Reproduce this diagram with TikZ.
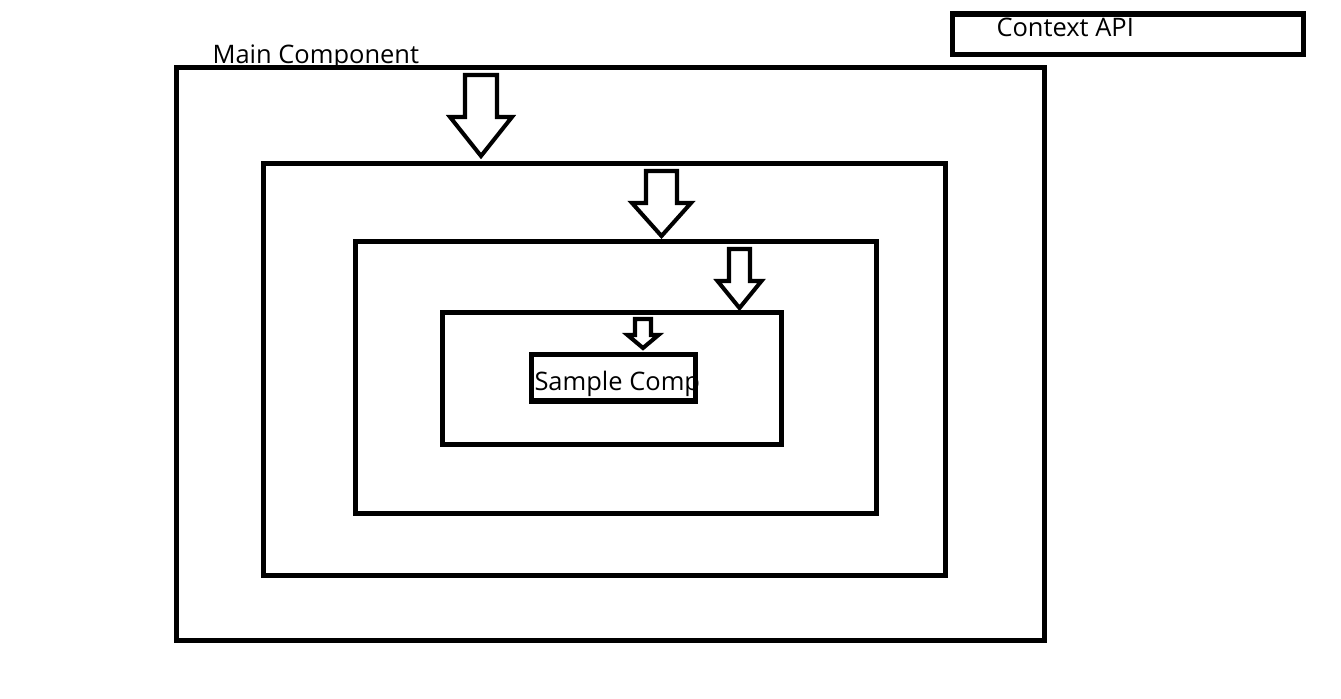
\documentclass[tikz,border=0pt]{standalone}
\usepackage{fontspec}
\setmainfont{Open Sans}
\usepackage{tikz}

\begin{document}
\begin{tikzpicture}[x=0.02cm,y=-0.02cm,line width=2.85pt]
  \useasboundingbox (0,0) rectangle (1341,699);
  \node[draw,minimum width=7.03cm,minimum height=0.81cm] (ctx) at (1128.25,34.25) {};
  \node[draw,minimum width=17.36cm,minimum height=11.46cm] (main) at (610.5,354) {};
  \node[draw,minimum width=13.64cm,minimum height=8.24cm] (child) at (604.5,369.5) {};
  \node[draw,minimum width=10.42cm,minimum height=5.44cm] (grand) at (616,377.5) {};
  \node[draw,minimum width=6.78cm,minimum height=2.64cm] (inner) at (612,378.5) {};
  \node[draw,minimum width=3.28cm,minimum height=0.93cm] (sample) at (613.5,377.75) {};
  \node[anchor=base west,inner sep=0pt,font=\fontsize{14.5}{17}\selectfont] (ctxLabel) at (994,37) {Context API};
  \node[anchor=base west,inner sep=0pt,font=\fontsize{14.5}{17}\selectfont] (mainLabel) at (210,64) {Main Component};
  \node[anchor=base west,inner sep=0pt,font=\fontsize{14.5}{17}\selectfont] (sampleLabel) at (532,390) {Sample Comp};
  \foreach \cx/\sw/\ya/\yb/\hw/\yc in {481/16/75/117/31/156, 661.5/15.5/171/203/29.5/236, 739.5/10.5/249/281/22/308, 643/8/319/335/15.5/348}
    \draw[line width=2.3pt] (\cx-\sw,\ya) -- (\cx+\sw,\ya) -- (\cx+\sw,\yb) -- (\cx+\hw,\yb) -- (\cx,\yc) -- (\cx-\hw,\yb) -- (\cx-\sw,\yb) -- cycle;
\end{tikzpicture}
\end{document}
